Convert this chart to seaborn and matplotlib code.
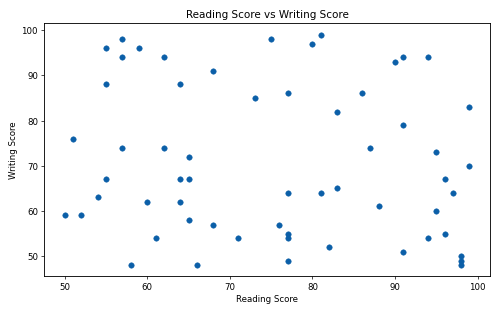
import matplotlib
matplotlib.use("Agg")
import matplotlib.pyplot as plt
import seaborn as sns
import pandas as pd

reading = [55, 57, 57, 59, 62, 68, 55, 64, 75, 80, 81, 73, 77, 86, 83, 90, 91, 94, 99, 91,
           51, 57, 62, 65, 55, 64, 65, 54, 60, 64, 50, 52, 65, 68, 61, 58, 66, 71, 76, 77,
           77, 77, 77, 81, 83, 82, 87, 88, 91, 94, 95, 95, 96, 96, 97, 99, 98, 98, 98]
writing = [96, 98, 94, 96, 94, 91, 88, 88, 98, 97, 99, 85, 86, 86, 82, 93, 94, 94, 83, 79,
           76, 74, 74, 72, 67, 67, 67, 63, 62, 62, 59, 59, 58, 57, 54, 48, 48, 54, 57, 55,
           54, 64, 49, 64, 65, 52, 74, 61, 51, 54, 73, 60, 67, 55, 64, 70, 50, 49, 48]

df = pd.DataFrame({"Reading Score": reading, "Writing Score": writing})

sns.set_style("white")
plt.rcParams['font.family'] = ['DejaVu Sans']
plt.rcParams['text.color'] = 'black'
plt.rcParams['axes.labelcolor'] = 'black'
plt.rcParams['xtick.color'] = 'black'
plt.rcParams['ytick.color'] = 'black'
fig, ax = plt.subplots(figsize=(8, 5), dpi=62.5)
sns.scatterplot(data=df, x="Reading Score", y="Writing Score", ax=ax,
                color="#0b5fa8", s=40, edgecolor="#0b5fa8", linewidth=0.5)
ax.set_title("Reading Score vs Writing Score", fontsize=12)
ax.set_xlabel("Reading Score", fontsize=10)
ax.set_ylabel("Writing Score", fontsize=10)
ax.tick_params(axis='both', labelsize=10, length=3.5, width=0.8, bottom=True, left=True)
for s in ax.spines.values():
    s.set_color("black")
    s.set_linewidth(1.0)
ax.set_xlim(47.5, 101.5)
ax.set_ylim(45.6, 101.6)
ax.set_xticks([50, 60, 70, 80, 90, 100])
ax.set_yticks([50, 60, 70, 80, 90, 100])
fig.subplots_adjust(left=0.088, right=0.98, top=0.925, bottom=0.115)
fig.savefig("out.png", dpi=62.5)
